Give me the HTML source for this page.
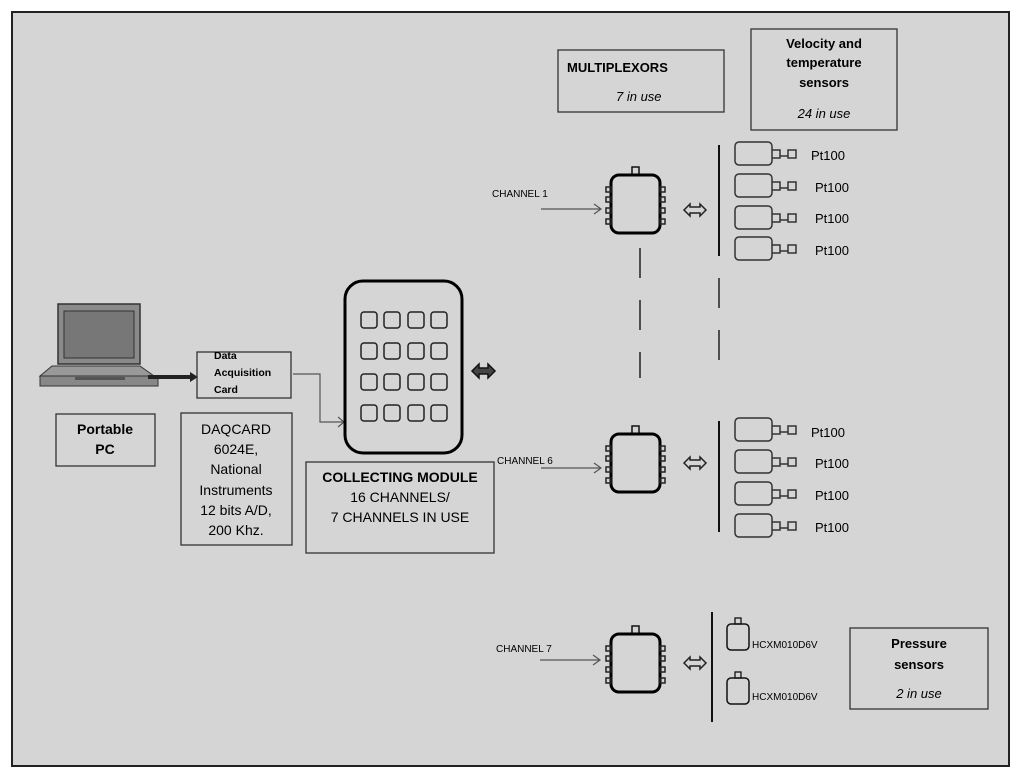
<!DOCTYPE html>
<html><head><style>
body{margin:0;background:#fff;}
svg{display:block;font-family:"Liberation Sans",sans-serif;}
</style></head><body>
<svg width="1024" height="776" viewBox="0 0 1024 776" xmlns="http://www.w3.org/2000/svg">
<defs>
<g id="chip">
<rect x="-4" y="-30" width="7" height="8" fill="none" stroke="#111" stroke-width="1.5"/>
<rect x="-25" y="-22" width="49" height="58" rx="8" fill="none" stroke="#000" stroke-width="3"/>
<g fill="none" stroke="#222" stroke-width="1.5">
<rect x="-30" y="-10" width="5" height="5"/><rect x="-30" y="0" width="5" height="5"/><rect x="-30" y="11" width="5" height="5"/><rect x="-30" y="22" width="5" height="5"/>
<rect x="24" y="-10" width="5" height="5"/><rect x="24" y="0" width="5" height="5"/><rect x="24" y="11" width="5" height="5"/><rect x="24" y="22" width="5" height="5"/>
</g>
</g>
<g id="pt">
<rect x="0" y="0" width="37" height="23" rx="4" fill="none" stroke="#333" stroke-width="1.5"/>
<path d="M37 8 h8 v8 h-8 M45 14 h8" fill="none" stroke="#333" stroke-width="1.5"/>
<rect x="53" y="8" width="8" height="8" fill="none" stroke="#333" stroke-width="1.5"/>
</g>
<g id="darr">
<path d="M-10 0 l6 -6 v3 h10 v-3 l6 6 l-6 6 v-3 h-10 v3 z" fill="none" stroke="#222" stroke-width="1.5"/>
</g>
<g id="hc">
<rect x="-11" y="-8" width="22" height="26" rx="4" fill="none" stroke="#111" stroke-width="1.5"/>
<rect x="-3" y="-14" width="6" height="6" fill="none" stroke="#111" stroke-width="1.3"/>
</g>
</defs>
<rect x="12" y="12" width="997" height="754" fill="#d5d5d5" stroke="#222" stroke-width="2"/>

<!-- laptop -->
<rect x="58" y="304" width="82" height="60" fill="#8a8a8a" stroke="#333" stroke-width="1.5"/>
<rect x="64" y="311" width="70" height="47" fill="#777" stroke="#333"/>
<path d="M52 366 h88 l14 10 h-114 z" fill="#999" stroke="#333"/>
<rect x="40" y="376" width="118" height="10" fill="#888" stroke="#333"/>
<rect x="75" y="377" width="50" height="3" fill="#555"/>
<path d="M148 377 h44" stroke="#222" stroke-width="4"/>
<path d="M190 372 l8 5 l-8 5 z" fill="#222"/>

<rect x="56" y="414" width="99" height="52" fill="none" stroke="#333" stroke-width="1.3"/>
<text x="105" y="434" font-size="14" font-weight="bold" text-anchor="middle">Portable</text>
<text x="105" y="454" font-size="14" font-weight="bold" text-anchor="middle">PC</text>

<rect x="197" y="352" width="94" height="46" fill="none" stroke="#333" stroke-width="1.3"/>
<text x="214" y="359" font-size="10.5" font-weight="bold">Data</text>
<text x="214" y="376" font-size="10.5" font-weight="bold">Acquisition</text>
<text x="214" y="393" font-size="10.5" font-weight="bold">Card</text>
<path d="M293 374 h27 v48 h24" fill="none" stroke="#555" stroke-width="1.2"/>
<path d="M338 417 l6 5 l-6 5" fill="none" stroke="#555" stroke-width="1.2"/>

<rect x="181" y="413" width="111" height="132" fill="none" stroke="#333" stroke-width="1.3"/>
<g font-size="14" text-anchor="middle"><text x="236" y="434">DAQCARD</text><text x="236" y="454">6024E,</text><text x="236" y="474">National</text><text x="236" y="495">Instruments</text><text x="236" y="515">12 bits A/D,</text><text x="236" y="535">200 Khz.</text></g>

<rect x="345" y="281" width="117" height="172" rx="18" fill="none" stroke="#000" stroke-width="3"/>
<g fill="none" stroke="#222" stroke-width="1.5">
<rect x="361" y="312" width="16" height="16" rx="3"/><rect x="384" y="312" width="16" height="16" rx="3"/><rect x="408" y="312" width="16" height="16" rx="3"/><rect x="431" y="312" width="16" height="16" rx="3"/>
<rect x="361" y="343" width="16" height="16" rx="3"/><rect x="384" y="343" width="16" height="16" rx="3"/><rect x="408" y="343" width="16" height="16" rx="3"/><rect x="431" y="343" width="16" height="16" rx="3"/>
<rect x="361" y="374" width="16" height="16" rx="3"/><rect x="384" y="374" width="16" height="16" rx="3"/><rect x="408" y="374" width="16" height="16" rx="3"/><rect x="431" y="374" width="16" height="16" rx="3"/>
<rect x="361" y="405" width="16" height="16" rx="3"/><rect x="384" y="405" width="16" height="16" rx="3"/><rect x="408" y="405" width="16" height="16" rx="3"/><rect x="431" y="405" width="16" height="16" rx="3"/>
</g>
<path d="M472 371 l7 -7 v4 h9 v-4 l7 7 l-7 7 v-4 h-9 v4 z" fill="#444" stroke="#111" stroke-width="1.5"/>

<rect x="306" y="462" width="188" height="91" fill="none" stroke="#333" stroke-width="1.3"/>
<text x="400" y="482" font-size="14" font-weight="bold" text-anchor="middle">COLLECTING MODULE</text>
<text x="400" y="502" font-size="14" text-anchor="middle">16 CHANNELS/</text>
<text x="400" y="522" font-size="14" text-anchor="middle">7 CHANNELS IN USE</text>

<!-- top boxes -->
<rect x="558" y="50" width="166" height="62" fill="none" stroke="#333" stroke-width="1.3"/>
<text x="567" y="72" font-size="13" font-weight="bold">MULTIPLEXORS</text>
<text x="616" y="101" font-size="13" font-style="italic">7 in use</text>
<rect x="751" y="29" width="146" height="101" fill="none" stroke="#333" stroke-width="1.3"/>
<text x="824" y="48" font-size="13" font-weight="bold" text-anchor="middle">Velocity  and</text>
<text x="824" y="67" font-size="13" font-weight="bold" text-anchor="middle">temperature</text>
<text x="824" y="87" font-size="13" font-weight="bold" text-anchor="middle">sensors</text>
<text x="824" y="118" font-size="13" font-style="italic" text-anchor="middle">24 in use</text>

<!-- channel 1 -->
<text x="492" y="197" font-size="10">CHANNEL 1</text>
<path d="M541 209 h60 M594 204 l7 5 l-7 5" fill="none" stroke="#555" stroke-width="1.2"/>
<use href="#chip" x="636" y="197"/>
<use href="#darr" x="694" y="210"/>
<path d="M719 145 v111" stroke="#111" stroke-width="2"/>
<use href="#pt" x="735" y="142"/><use href="#pt" x="735" y="174"/><use href="#pt" x="735" y="206"/><use href="#pt" x="735" y="237"/>
<g font-size="13"><text x="811" y="160">Pt100</text><text x="815" y="192">Pt100</text><text x="815" y="223">Pt100</text><text x="815" y="255">Pt100</text></g>
<path d="M640 248 v130 M719 278 v100" stroke="#222" stroke-width="1.5" stroke-dasharray="30 22"/>

<!-- channel 6 -->
<text x="497" y="464" font-size="10">CHANNEL 6</text>
<path d="M541 468 h60 M594 463 l7 5 l-7 5" fill="none" stroke="#555" stroke-width="1.2"/>
<use href="#chip" x="636" y="456"/>
<use href="#darr" x="694" y="463"/>
<path d="M719 421 v111" stroke="#111" stroke-width="2"/>
<use href="#pt" x="735" y="418"/><use href="#pt" x="735" y="450"/><use href="#pt" x="735" y="482"/><use href="#pt" x="735" y="514"/>
<g font-size="13"><text x="811" y="437">Pt100</text><text x="815" y="468">Pt100</text><text x="815" y="500">Pt100</text><text x="815" y="532">Pt100</text></g>

<!-- channel 7 -->
<text x="496" y="652" font-size="10">CHANNEL 7</text>
<path d="M540 660 h60 M593 655 l7 5 l-7 5" fill="none" stroke="#555" stroke-width="1.2"/>
<use href="#chip" x="636" y="656"/>
<use href="#darr" x="694" y="663"/>
<path d="M712 612 v110" stroke="#111" stroke-width="2"/>
<use href="#hc" x="738" y="632"/><use href="#hc" x="738" y="686"/>
<text x="752" y="648" font-size="10">HCXM010D6V</text>
<text x="752" y="700" font-size="10">HCXM010D6V</text>
<rect x="850" y="628" width="138" height="81" fill="none" stroke="#333" stroke-width="1.3"/>
<text x="919" y="648" font-size="13" font-weight="bold" text-anchor="middle">Pressure</text>
<text x="919" y="669" font-size="13" font-weight="bold" text-anchor="middle">sensors</text>
<text x="919" y="698" font-size="13" font-style="italic" text-anchor="middle">2 in use</text>
</svg>
</body></html>
